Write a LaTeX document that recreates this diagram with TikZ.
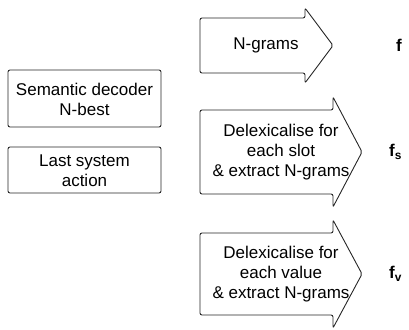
\documentclass[tikz,border=0pt]{standalone}
\usepackage{fontspec}
\setmainfont{Liberation Sans}
\usepackage{tikz}
\usetikzlibrary{positioning}

\begin{document}
\begin{tikzpicture}[
  x=1pt, y=-1pt,
  font=\fontsize{17}{20}\selectfont,
  inbox/.style={draw=black!85, rounded corners=2pt, line width=0.9pt},
  blockarr/.style={draw=black!85, rounded corners=2pt, line width=0.9pt},
  txt/.style={align=center, inner sep=0pt},
  feat/.style={anchor=west, inner sep=0pt, font=\fontsize{17}{20}\selectfont\bfseries}
]
\useasboundingbox (0,0) rectangle (409,329);
% inputs
\draw[inbox] (8,70) rectangle (161,127);
\node[txt] (dec) at (84.5,99) {Semantic decoder\\N-best};
\draw[inbox] (8,147) rectangle (161,193);
\node[txt] (act) at (84.5,171) {Last system\\action};
% feature extractors
\draw[blockarr] (200,18) -- (305,18) -- (305,8) -- (333,45.5) -- (305,83) -- (305,73) -- (200,73) -- cycle;
\node[txt] (ngr) at (266,45.5) {N-grams};
\draw[blockarr] (200,110) -- (333,110) -- (333,97) -- (362,152) -- (333,207) -- (333,194) -- (200,194) -- cycle;
\node[txt] (slot) at (281,152) {Delexicalise for\\each slot\\\& extract N-grams};
\draw[blockarr] (200,233) -- (333,233) -- (333,220) -- (362,274) -- (333,328) -- (333,315) -- (200,315) -- cycle;
\node[txt] (val) at (281,274) {Delexicalise for\\each value\\\& extract N-grams};
% outputs
\node[feat] (f) at (396,45.5) {f};
\node[feat] (fs) at (389,152) {f\textsubscript{s}};
\node[feat] (fv) at (389,274) {f\textsubscript{v}};
\end{tikzpicture}
\end{document}
